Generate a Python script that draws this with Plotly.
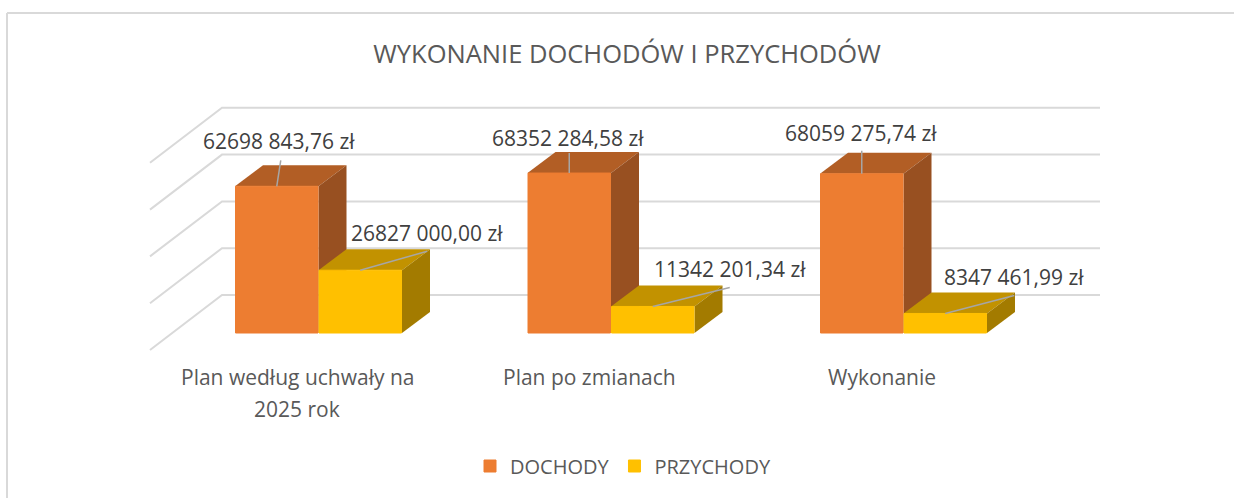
import plotly.graph_objects as go

categories = ["Plan według uchwały na<br>2025 rok", "Plan po zmianach", "Wykonanie"]
dochody = [62698843.76, 68352284.58, 68059275.74]
przychody = [26827000.00, 11342201.34, 8347461.99]
dochody_labels = ["62698 843,76 zł", "68352 284,58 zł", "68059 275,74 zł"]
przychody_labels = ["26827 000,00 zł", "11342 201,34 zł", "8347 461,99 zł"]
grid_values = [0, 20e6, 40e6, 60e6, 80e6]
series_names = ["DOCHODY", "PRZYCHODY"]
title_text = "WYKONANIE DOCHODÓW I PRZYCHODÓW"

W, H = 1234, 498
PX_PER_CAT = 292.5
PX_PER_VAL = 2.34e-6
X0_PX, Y0_PX = 318.5, 333.0
BAR_W = 83.5 / PX_PER_CAT
DX = 28 / PX_PER_CAT
DY = 21 / PX_PER_VAL

def px_x(dp):
    return dp / PX_PER_CAT
def px_y(dp):
    return dp / PX_PER_VAL

xr = [-X0_PX / PX_PER_CAT, (W - X0_PX) / PX_PER_CAT]
yr = [-(H - Y0_PX) / PX_PER_VAL, Y0_PX / PX_PER_VAL]

GRID = "#d9d9d9"
TXT = "#595959"
FONT = "Open Sans"
C = {
    "d": ("#ED7D31", "#B25E25", "#985021"),
    "p": ("#FFC000", "#C29200", "#A37B00"),
}

fig = go.Figure()

def poly(xs, ys, color):
    fig.add_trace(go.Scatter(x=xs, y=ys, mode="lines", fill="toself", fillcolor=color,
                             line=dict(width=0, color=color), showlegend=False, hoverinfo="skip"))

# Wall gridlines: back wall plus receding left wall
wall_left = px_x(222 - X0_PX)
wall_right = px_x(1100 - X0_PX)
wall_dx = px_x(-72)
back_shift = px_y(38)
wall_dy = px_y(-55)
for g in grid_values:
    yb = g + back_shift
    fig.add_trace(go.Scatter(x=[wall_left + wall_dx, wall_left, wall_right],
                             y=[yb + wall_dy, yb, yb], mode="lines",
                             line=dict(color=GRID, width=2), showlegend=False, hoverinfo="skip"))

# Side and top faces, back to front for each category
for i in range(len(categories)):
    for key, val, x1 in (("d", dochody[i], i - BAR_W), ("p", przychody[i], i)):
        x2 = x1 + BAR_W
        poly([x1, x2, x2 + DX, x1 + DX], [val, val, val + DY, val + DY], C[key][1])
        poly([x2, x2 + DX, x2 + DX, x2], [0, DY, val + DY, val], C[key][2])

# Front faces as real bars on an overlaid axis pair, so they cover the faces behind.
# The 1 px outline enlarges the legend swatch; the bar is narrowed by the same amount.
INSET = px_x(0.5)
fig.add_trace(go.Bar(x=list(range(3)), y=dochody, name=series_names[0], width=BAR_W - 2 * INSET,
                     offset=-BAR_W + INSET,
                     marker=dict(color=C["d"][0], line=dict(width=1, color=C["d"][0])), xaxis="x2", yaxis="y2"))
fig.add_trace(go.Bar(x=list(range(3)), y=przychody, name=series_names[1], width=BAR_W - 2 * INSET,
                     offset=INSET,
                     marker=dict(color=C["p"][0], line=dict(width=1, color=C["p"][0])), xaxis="x2", yaxis="y2"))

# Leader lines (start centred on the bar's top edge) and data labels
d_line_end = [(4, 26), (0, 20), (0, 23)]
p_line_end = [(67, 19), (77, 19), (69, 18)]
d_text_pos = [(2, 45), (-1, 35.5), (-1, 41)]
p_text_pos = [(67, 37), (77, 37), (69, 36)]
annotations = []
for i in range(3):
    for val, txt, lend, tpos, cx in (
        (dochody[i], dochody_labels[i], d_line_end[i], d_text_pos[i], i - BAR_W / 2),
        (przychody[i], przychody_labels[i], p_line_end[i], p_text_pos[i], i + BAR_W / 2),
    ):
        fig.add_trace(go.Scatter(x=[cx, cx + px_x(lend[0])], y=[val, val + px_y(lend[1])], mode="lines",
                                 line=dict(color="#A6A6A6", width=1.5), showlegend=False,
                                 hoverinfo="skip", xaxis="x2", yaxis="y2"))
        annotations.append(dict(x=cx + px_x(tpos[0]), y=val + px_y(tpos[1]), xref="x2", yref="y2",
                                text=txt, showarrow=False, xanchor="center", yanchor="middle",
                                font=dict(family=FONT, size=21, color="#404040")))

# Category labels
for i, cat in enumerate(categories):
    for j, part in enumerate(cat.split("<br>")):
        annotations.append(dict(x=i + px_x(-21.5), y=px_y(333 - 377 - 32 * j), xref="x2", yref="y2",
                                text=part, showarrow=False, xanchor="center", yanchor="middle",
                                font=dict(family=FONT, size=21, color=TXT)))

axis = dict(visible=False, fixedrange=True)
fig.update_layout(
    width=W, height=H,
    margin=dict(l=0, r=0, t=0, b=0),
    autosize=False,
    paper_bgcolor="white", plot_bgcolor="white",
    barmode="overlay",
    title=dict(text=title_text, x=627 / W, xanchor="center", y=1 - 54 / H, yanchor="middle",
               font=dict(family=FONT, size=25.5, color=TXT)),
    xaxis=dict(range=xr, **axis),
    yaxis=dict(range=yr, **axis),
    xaxis2=dict(range=xr, overlaying="x", **axis),
    yaxis2=dict(range=yr, overlaying="y", **axis),
    legend=dict(orientation="h", x=470 / W, xanchor="left", y=1 - 466 / H, yanchor="middle",
                itemwidth=30,
                font=dict(family=FONT, size=20, color=TXT), bgcolor="rgba(0,0,0,0)"),
    annotations=annotations,
    shapes=[
        dict(type="line", xref="paper", yref="paper", x0=7 / W, x1=1, y0=1 - 13 / H, y1=1 - 13 / H,
             line=dict(color=GRID, width=2)),
        dict(type="line", xref="paper", yref="paper", x0=7 / W, x1=7 / W, y0=1 - 13 / H, y1=0,
             line=dict(color=GRID, width=2)),
    ],
)
fig.write_html("out.html", config={"displayModeBar": False},
               post_script="document.body.style.margin='0';document.body.style.overflow='hidden';")
